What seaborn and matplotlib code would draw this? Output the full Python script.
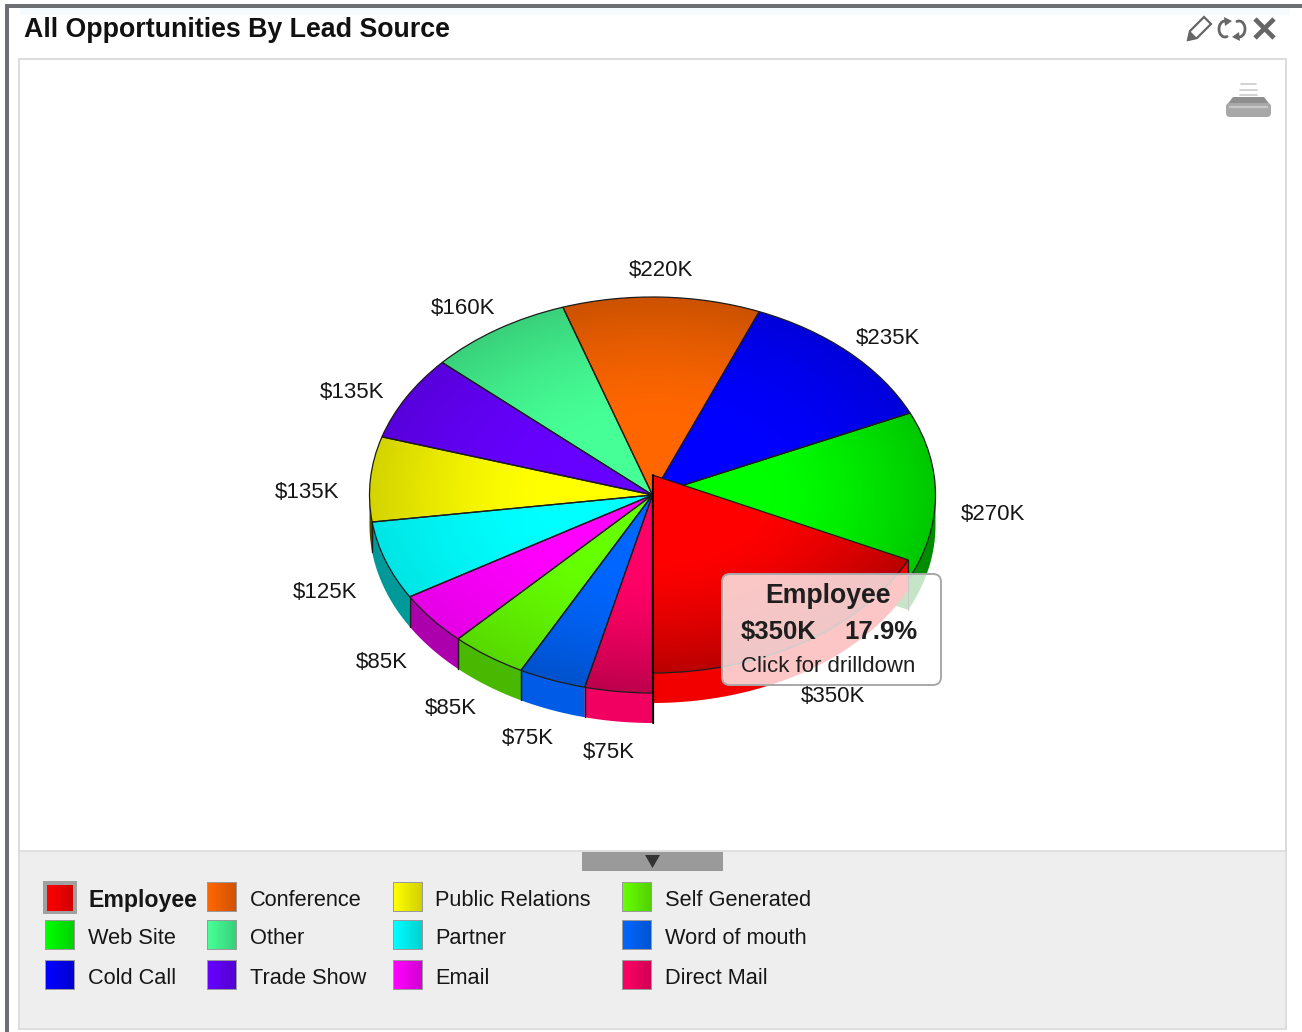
import numpy as np
import matplotlib
matplotlib.use("Agg")
import matplotlib.pyplot as plt
from matplotlib.patches import Rectangle, FancyBboxPatch, Polygon
import seaborn as sns

# ---- data ----
sources = ["Employee", "Web Site", "Cold Call", "Conference", "Other", "Trade Show",
           "Public Relations", "Partner", "Email", "Self Generated", "Word of mouth", "Direct Mail"]
values = [350, 270, 235, 220, 160, 135, 135, 125, 85, 85, 75, 75]
value_labels = ["$350K", "$270K", "$235K", "$220K", "$160K", "$135K",
                "$135K", "$125K", "$85K", "$85K", "$75K", "$75K"]
hex_colors = ["#ff0000", "#00ff00", "#0000ff", "#ff6600", "#46ff96", "#6600ff",
              "#ffff00", "#00ffff", "#ff00ff", "#66ff00", "#0066ff", "#ff0066"]
title = "All Opportunities By Lead Source"

# ---- styling / layout ----
sns.set_theme(style="white", font="Liberation Sans")
plt.rcParams["font.family"] = ["Liberation Sans", "DejaVu Sans"]
palette = sns.color_palette(hex_colors)
rim_shade = [0.27, 0.22, 0.14, 0.2, 0.18, 0.14, 0.17, 0.1, 0.1, 0.15, 0.2, 0.26]
wall_shade = [0.95, 0.55, 0.5, 0.5, 0.5, 0.5, 0.3, 0.6, 0.67, 0.72, 0.9, 0.95]
label_xy = [(833, 696), (993, 514), (888, 338), (661, 271), (463, 309), (352, 392),
            (307, 493), (325, 593), (382, 663), (451, 708), (528, 738), (609, 752)]
W, H = 1302, 1032
CX, CY, RX, RY = 652.5, 495.0, 283.0, 198.0
DEPTH = 30 / RY
LIFT = 20 / RY
INK = "#1c1c1c"

fig = plt.figure(figsize=(W / 100, H / 100), dpi=100, facecolor="white")


def pixel_axes(z):
    a = fig.add_axes([0, 0, 1, 1], zorder=z)
    a.set_xlim(0, W)
    a.set_ylim(H, 0)
    a.axis("off")
    a.patch.set_alpha(0)
    a.set_autoscale_on(False)
    return a


bg = pixel_axes(0)
# outer frame
bg.add_patch(Rectangle((20, 8), 1270, 7, fc="#f6fbff", ec="none"))
bg.add_patch(Rectangle((5, 4), W - 5, 4, fc="#6c6e72", ec="none"))
bg.add_patch(Rectangle((5, 4), 3.5, H - 4, fc="#6c6e72", ec="none"))
bg.add_patch(Rectangle((19, 59), 1267, 970, fc="white", ec="#d6d6d6", lw=1.2))
bg.add_patch(Rectangle((19, 851), 1267, 178, fc="#eeeeee", ec="#dcdcdc", lw=1.2))
bg.text(24, 30, title, fontsize=19.3, fontweight="bold", color="#111111", va="center", ha="left")

# header icons
icon = "#666666"
bg.add_patch(Polygon([(1188, 40), (1190, 31), (1204, 17), (1211, 24), (1197, 38)], fc="white", ec=icon, lw=1.6))
bg.add_patch(Polygon([(1188, 40), (1190, 32), (1196, 38)], fc=icon, ec=icon, lw=1))
t = np.linspace(np.radians(70), np.radians(290), 30)
bg.plot(1225 + 6 * np.cos(t), 29 - 8 * np.sin(t), color=icon, lw=2)
bg.add_patch(Polygon([(1224, 17), (1232, 21), (1225, 26)], fc=icon, ec="none"))
t = np.linspace(np.radians(-110), np.radians(110), 30)
bg.plot(1239 + 6 * np.cos(t), 29 - 8 * np.sin(t), color=icon, lw=2)
bg.add_patch(Polygon([(1240, 41), (1232, 37), (1239, 32)], fc=icon, ec="none"))
bg.plot([1255, 1274], [19, 38], color=icon, lw=3.4, solid_capstyle="butt")
bg.plot([1274, 1255], [19, 38], color=icon, lw=3.4, solid_capstyle="butt")

# printer icon
for yy, x0, x1 in [(84, 1241, 1256), (90, 1240, 1257), (95, 1240, 1257)]:
    bg.plot([x0, x1], [yy, yy], color="#cfcfcf", lw=1.3)
bg.add_patch(Polygon([(1226, 106), (1233, 97), (1264, 97), (1271, 106)], fc="#8f8f8f", ec="none"))
bg.add_patch(FancyBboxPatch((1226, 103), 45, 14, boxstyle="round,pad=0,rounding_size=4", fc="#a8a8a8", ec="none"))
bg.plot([1230, 1267], [107, 107], color="#c8c8c8", lw=1.6)

# collapse handle
bg.add_patch(Rectangle((582, 852), 141, 19, fc="#9a9a9a", ec="none"))
bg.add_patch(Polygon([(645, 855), (660, 855), (652.5, 868)], fc="#333333", ec="none"))

# legend
col_sw = [45, 207, 393, 622]
col_tx = [88, 250, 435, 665]
row_sw = [882, 920, 960]
row_tx = [900, 939, 978]
for i, (name, col) in enumerate(zip(sources, palette)):
    c, r = i // 3, i % 3
    x0, y0, s = col_sw[c], row_sw[r], 30
    grad = np.linspace(1.0, 0.82, 32)[None, :, None] * np.array(col)[None, None, :]
    if i == 0:
        bg.add_patch(Rectangle((x0 - 2, y0 - 1), s + 4, s + 3, fc="#a0a0a0", ec="none"))
        bg.imshow(grad, extent=(x0 + 2, x0 + s - 2, y0 + s - 1, y0 + 3), aspect="auto", zorder=3)
    else:
        bg.add_patch(Rectangle((x0, y0), s, s, fc="#9a9a9a", ec="none"))
        bg.imshow(grad, extent=(x0 + 1, x0 + s - 1, y0 + s - 1, y0 + 1), aspect="auto", zorder=3)
    bg.text(col_tx[c], row_tx[r], name, fontsize=16.7 if i == 0 else 15.7, color="#161616",
            va="center", ha="left", fontweight="bold" if i == 0 else "normal", zorder=4)
bg.set_xlim(0, W)
bg.set_ylim(H, 0)

# ---- pie ----
ax = fig.add_axes([0, 0, 1, 1], zorder=1)
wedges, _ = ax.pie(values, startangle=270, counterclock=True, radius=1, center=(0, 0),
                   colors=["none"] * len(values),
                   wedgeprops=dict(edgecolor=INK, linewidth=0.9))
ax.axis("off")
ax.patch.set_alpha(0)
ax.set_autoscale_on(False)

wedges[0].set_center((0, LIFT))
gx, gy = np.meshgrid(np.linspace(-1, 1, 500), np.linspace(-1, 1, 500))
ramp = np.clip((np.hypot(gx, gy) - 0.42) / 0.58, 0, 1) ** 1.4

for i, w in enumerate(wedges):
    base = 6 if i == 0 else 2
    lift = LIFT if i == 0 else 0
    a0, a1 = w.theta1, w.theta2
    if a0 >= 360:
        a0, a1 = a0 - 360, a1 - 360
    lo, hi = max(a0, 180), min(a1, 360)
    if hi > lo:
        th = np.radians(np.linspace(lo, hi, 60))
        top = np.column_stack([np.cos(th), np.sin(th) + lift])
        bot = np.column_stack([np.cos(th), np.sin(th) + lift - DEPTH])[::-1]
        col = np.array(palette[i]) * wall_shade[i]
        ax.add_patch(Polygon(np.vstack([top, bot]), fc=col, ec="none", zorder=base - 1))
        for a in (a0, a1):
            if 180 <= a <= 360:
                xx = np.cos(np.radians(a))
                yy = np.sin(np.radians(a)) + lift
                ax.plot([xx, xx], [yy, yy - DEPTH], color=INK, lw=0.9, zorder=base - 0.5)
        # the cut face of the neighbour exposed by the lifted slice
        if i == 1:
            xx, yy = np.cos(np.radians(a0)), np.sin(np.radians(a0))
            ax.add_patch(Polygon([(0, 0), (xx, yy), (xx, yy - DEPTH), (0, -DEPTH)],
                                 fc=col, ec="none", zorder=base - 1))
    img = (1 - rim_shade[i] * ramp)[..., None] * np.array(palette[i])[None, None, :]
    im = ax.imshow(img, extent=(-1, 1, -1 + lift, 1 + lift), origin="lower", aspect="auto",
                   zorder=base, interpolation="bilinear")
    im.set_clip_path(w)
    w.set_zorder(base + 1)

ax.set_aspect("auto")
ax.set_xlim((0 - CX) / RX, (W - CX) / RX)
ax.set_ylim((CY - H) / RY, CY / RY)
# front seam of the lifted slice
ax.plot([0, 0], [LIFT, -1 - DEPTH], color="black", lw=1.3, zorder=9)

# ---- overlay: value labels and tooltip ----
ov = pixel_axes(2)
for txt, (x, y) in zip(value_labels, label_xy):
    ov.text(x, y, txt, fontsize=16, color="#161616", ha="center", va="center")
ov.add_patch(FancyBboxPatch((722, 574), 219, 111, boxstyle="round,pad=0,rounding_size=8",
                            fc=(1, 1, 1, 0.78), ec="#a8a8a8", lw=1.4, zorder=5))
ov.text(828, 596, sources[0], fontsize=19.2, fontweight="bold", color="#1e1e1e", ha="center", va="center", zorder=6)
total = sum(values)
ov.text(741, 632, value_labels[0], fontsize=18.5, fontweight="bold", color="#1e1e1e", ha="left", va="center", zorder=6)
ov.text(917, 632, f"{values[0] / total * 100:.1f}%", fontsize=18.5, fontweight="bold", color="#1e1e1e",
        ha="right", va="center", zorder=6)
ov.text(828, 666, "Click for drilldown", fontsize=16, color="#1e1e1e", ha="center", va="center", zorder=6)

fig.savefig("out.png", dpi=100)
